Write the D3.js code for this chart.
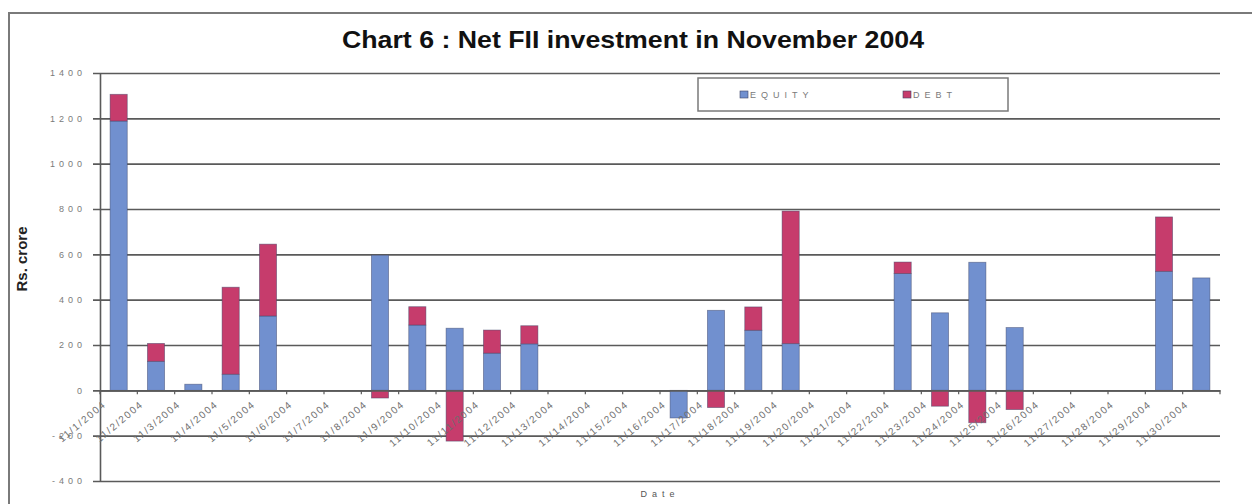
<!DOCTYPE html>
<html>
<head>
<meta charset="utf-8">
<script src="https://cdn.jsdelivr.net/npm/d3@7/dist/d3.min.js"></script>
<style>
  html, body { margin: 0; padding: 0; background: #fff; }
  svg { display: block; }
  text { font-family: "Liberation Sans", Arial, sans-serif; }
</style>
</head>
<body>
<svg id="chart" width="1252" height="504"></svg>
<script>
// Trading days of November 2004 (Rs. crore)
const dates = [
  "11/1/2004","11/2/2004","11/3/2004","11/4/2004","11/5/2004","11/6/2004",
  "11/7/2004","11/8/2004","11/9/2004","11/10/2004","11/11/2004","11/12/2004",
  "11/13/2004","11/14/2004","11/15/2004","11/16/2004","11/17/2004","11/18/2004",
  "11/19/2004","11/20/2004","11/21/2004","11/22/2004","11/23/2004","11/24/2004",
  "11/25/2004","11/26/2004","11/27/2004","11/28/2004","11/29/2004","11/30/2004"
];
const equity = [
  1188, 128, 27, 71, 328, 0,
  0, 596, 288, 274, 164, 205,
  0, 0, 0, -122, 353, 265,
  206, 0, 0, 515, 342, 565,
  277, 0, 0, 0, 525, 496
];
const debt = [
  118, 79, 0, 384, 317, 0,
  0, -34, 81, -224, 102, 80,
  0, 0, 0, 0, -76, 103,
  585, 0, 0, 51, -70, -143,
  -85, 0, 0, 0, 240, 0
];
const seriesNames = ["EQUITY", "DEBT"];
const seriesColors = ["#7190cf", "#c63c6c"];
const yTicks = [-400, -200, 0, 200, 400, 600, 800, 1000, 1200, 1400];

const svg = d3.select("#chart");

// outer frame
svg.append("rect")
  .attr("x", 9).attr("y", 13).attr("width", 1260).attr("height", 520)
  .attr("fill", "none").attr("stroke", "#7a7a7a").attr("stroke-width", 2);

const x = d3.scaleBand().domain(dates).range([100, 1220])
  .paddingInner(0.54).paddingOuter(0.27);
const y = d3.scaleLinear().domain([-400, 1400]).range([481, 73]);

// gridlines + y axis
const yAxis = d3.axisLeft(y).tickValues(yTicks).tickSize(-1120).tickSizeOuter(0)
  .tickFormat(d => String(d));
const gy = svg.append("g").attr("transform", "translate(100,0)").call(yAxis);
gy.select(".domain").attr("stroke", "#5a5a5a").attr("stroke-width", 1.6);
gy.selectAll(".tick line").attr("stroke", "#5a5a5a").attr("stroke-width", 1.6)
  .attr("x1", -7);
gy.selectAll(".tick text")
  .attr("x", -14).attr("fill", "#7a7a7a")
  .style("font-size", "9px").style("letter-spacing", "4px");

// stacked bars (positive and negative parts diverge from zero)
const rows = dates.map((d, i) => ({ date: d, EQUITY: equity[i], DEBT: debt[i] }));
const stack = d3.stack().keys(seriesNames).offset(d3.stackOffsetDiverging);
const layers = stack(rows);

svg.append("g").selectAll("g").data(layers).join("g")
  .attr("fill", (d, i) => seriesColors[i])
  .selectAll("rect").data(d => d.filter(s => s[1] !== s[0])).join("rect")
  .attr("x", d => x(d.data.date))
  .attr("width", x.bandwidth())
  .attr("y", d => y(Math.max(d[0], d[1])))
  .attr("height", d => Math.abs(y(d[0]) - y(d[1])))
  .attr("stroke", "#3d4466").attr("stroke-opacity", 0.55).attr("stroke-width", 0.8);

// zero line with category ticks
const xAxis = d3.axisBottom(x).tickSize(0).tickFormat(d => d);
const gx = svg.append("g").attr("transform", `translate(0,${y(0)})`).call(xAxis);
gx.select(".domain").attr("stroke", "#5a5a5a").attr("stroke-width", 1.6);
gx.selectAll(".tick text")
  .attr("text-anchor", "end")
  .attr("fill", "#6e6e6e")
  .style("font-size", "10px").style("letter-spacing", "1.6px")
  .attr("dy", 0).attr("y", 0)
  .attr("transform", `translate(-12,15) rotate(-40)`);
const step = x.step();
svg.append("g").selectAll("line").data(d3.range(dates.length + 1)).join("line")
  .attr("x1", i => 100 + i * step).attr("x2", i => 100 + i * step)
  .attr("y1", y(0)).attr("y2", y(0) + 4)
  .attr("stroke", "#5a5a5a").attr("stroke-width", 1.2);

// title
svg.append("text")
  .attr("x", 633).attr("y", 48).attr("text-anchor", "middle")
  .attr("textLength", 582).attr("lengthAdjust", "spacingAndGlyphs")
  .style("font-size", "24px").style("font-weight", "bold").attr("fill", "#111")
  .text("Chart 6 : Net FII investment in November 2004");

// y axis title
svg.append("text")
  .attr("transform", "translate(27,259) rotate(-90)")
  .attr("text-anchor", "middle")
  .style("font-size", "15px").style("font-weight", "bold").attr("fill", "#222")
  .text("Rs. crore");

// x axis title
svg.append("text")
  .attr("x", 660).attr("y", 497).attr("text-anchor", "middle")
  .style("font-size", "9px").style("letter-spacing", "5px").attr("fill", "#555")
  .text("Date");

// legend
const lg = svg.append("g");
lg.append("rect").attr("x", 698).attr("y", 78).attr("width", 310).attr("height", 33)
  .attr("fill", "#fff").attr("stroke", "#7a7a7a").attr("stroke-width", 1.5);
const legendX = [740, 903];
seriesNames.forEach((name, i) => {
  lg.append("rect").attr("x", legendX[i]).attr("y", 91).attr("width", 8).attr("height", 7)
    .attr("fill", seriesColors[i]).attr("stroke", "#3d4466").attr("stroke-width", 0.6);
  lg.append("text").attr("x", legendX[i] + 10).attr("y", 98)
    .style("font-size", "9px").style("letter-spacing", "5px").attr("fill", "#7a7a7a")
    .text(name);
});
</script>
</body>
</html>
